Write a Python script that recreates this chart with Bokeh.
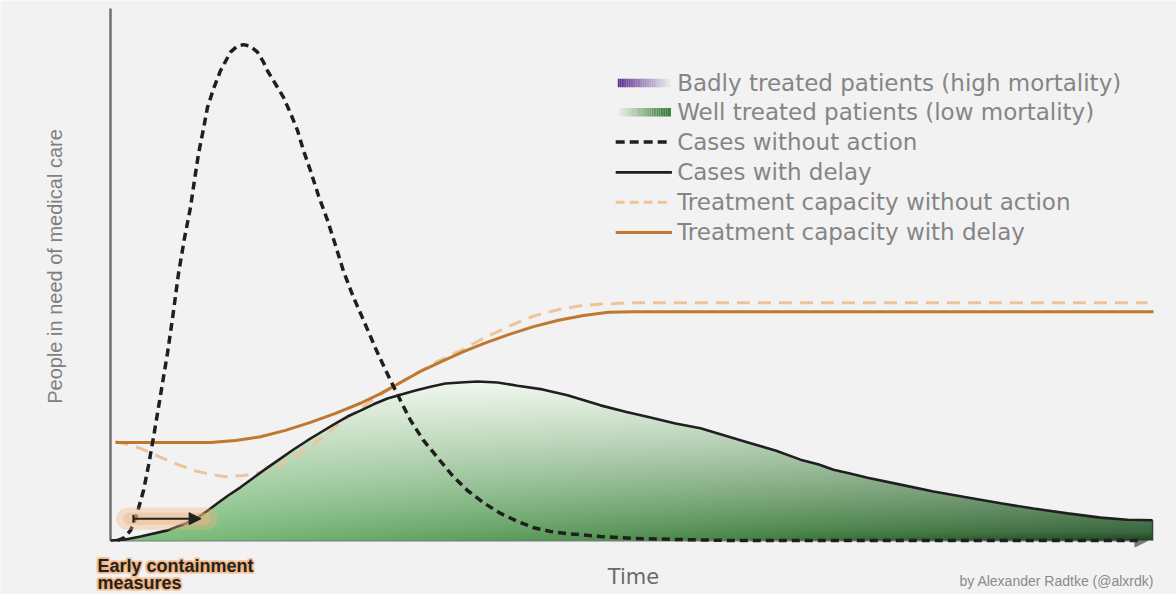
import numpy as np
from bokeh.plotting import figure
from bokeh.models import Range1d, Label, Arrow, NormalHead, TeeHead
from bokeh.core.properties import value
from bokeh.embed import file_html
from bokeh.resources import INLINE

# ---------------- data ----------------
# Cases without action (dashed black)
t_no_action = [0.67, 1.34, 1.92, 2.50, 3.17, 3.65, 4.13, 4.80, 5.47, 5.95, 6.53, 7.10, 7.68,
               8.06, 8.45, 8.93, 9.31, 9.89, 10.56, 11.52, 12.16, 12.77, 13.44, 14.11, 14.69,
               15.07, 15.84, 16.61, 17.28, 17.95, 18.53, 19.20, 19.97, 20.83, 21.60, 22.37,
               23.33, 24.29, 25.54, 26.88, 27.84, 28.80, 30.05, 31.39, 32.83, 34.27, 35.81,
               37.44, 39.07, 40.63, 42.24, 43.86, 47.04, 50.21, 56.64, 59.81, 98.9]
v_no_action = [0.0, 0.56, 1.88, 4.70, 9.40, 14.1, 19.4, 27.3, 35.2, 41.7, 50.2, 56.8, 62.6,
               67.7, 72.7, 77.4, 81.4, 84.9, 88.3, 91.8, 92.9, 93.2, 92.9, 91.8, 89.9,
               88.3, 85.8, 83.3, 80.3, 77.1, 73.3, 69.5, 64.8, 60.2, 55.5, 50.6,
               45.7, 41.4, 35.7, 30.1, 26.3, 22.6, 18.8, 15.6, 12.2, 9.4, 7.1,
               5.1, 3.6, 2.4, 1.7, 1.3, 0.75, 0.38, 0.1, 0.0, 0.0]

# Cases with delay (solid black, green area)
t_delay = [0.0, 1.44, 2.88, 5.47, 7.20, 8.35, 9.31, 10.27, 11.33, 12.48, 13.73, 15.07, 16.32,
           17.57, 18.91, 20.16, 21.41, 22.75, 24.00, 25.25, 26.59, 27.84, 29.28, 30.72, 32.16,
           33.60, 35.23, 37.15, 39.07, 41.47, 43.87, 47.04, 49.44, 51.84, 54.24, 56.64, 59.04,
           61.44, 63.84, 66.24, 68.00, 69.41, 71.00, 72.68, 75.84, 79.01, 82.28, 85.45, 88.61,
           91.88, 95.05, 97.64, 100.04]
v_delay = [0.0, 0.2, 0.75, 1.9, 3.2, 4.3, 5.6, 7.0, 8.5, 10.0, 11.8, 13.7, 15.4,
           17.1, 18.8, 20.3, 21.8, 23.3, 24.4, 25.6, 26.7, 27.4, 28.2, 28.9, 29.5,
           29.7, 29.9, 29.7, 29.1, 28.4, 27.3, 25.4, 24.2, 23.1, 22.0, 21.1, 19.7,
           18.3, 16.9, 15.2, 14.3, 13.3, 12.6, 11.8, 10.5, 9.2, 8.1, 7.0, 6.0,
           5.1, 4.3, 3.9, 3.8]

# Treatment capacity with delay (solid orange)
t_cap_delay = [0.48, 4.80, 9.60, 12.0, 14.40, 16.80, 19.20, 21.60, 24.00, 25.92, 27.84, 29.76,
               31.97, 33.89, 35.81, 38.21, 40.61, 43.01, 45.41, 47.81, 50.21, 100.13]
v_cap_delay = [18.4, 18.4, 18.4, 18.8, 19.5, 20.7, 22.2, 23.9, 25.8, 27.6, 29.7, 31.8,
               33.8, 35.5, 37.0, 38.7, 40.2, 41.4, 42.3, 42.9, 43.0, 43.0]

# Treatment capacity without action (dashed light orange)
t_cap_none = [0.48, 1.73, 2.88, 4.61, 6.43, 7.97, 9.60, 11.04, 12.77, 14.40, 16.03, 17.57,
              19.20, 20.83, 22.37, 24.00, 25.63, 27.17, 28.80, 31.20, 33.60, 36.00, 38.40,
              40.80, 43.01, 45.41, 47.81, 50.21, 99.56]
v_cap_none = [18.6, 18.0, 17.3, 15.8, 14.3, 13.2, 12.4, 12.0, 12.2, 12.8, 13.9, 15.6,
              17.7, 20.1, 22.6, 24.8, 27.1, 28.9, 30.8, 33.5, 35.7, 38.2, 40.4,
              42.3, 43.4, 44.2, 44.5, 44.7, 44.7]

legend_labels = ["Badly treated patients (high mortality)",
                 "Well treated patients (low mortality)",
                 "Cases without action",
                 "Cases with delay",
                 "Treatment capacity without action",
                 "Treatment capacity with delay"]

y_title = "People in need of medical care"
x_title = "Time"
credit = "by Alexander Radtke (@alxrdk)"
note_lines = ["Early containment", "measures"]

# ---------------- figure (frame covers the whole canvas) ----------------
BG = "#f2f2f2"
p = figure(width=1176, height=594, output_backend="svg", toolbar_location=None,
           x_range=Range1d(-10.56, 102.34), y_range=Range1d(-10.15, 101.5),
           min_border=0)
p.background_fill_color = BG
p.border_fill_color = BG
p.outline_line_color = None
p.grid.visible = False
p.axis.visible = False

# axes drawn as a line and an arrow
p.line([0, 0], [0, 100], line_color="#707070", line_width=2.5)
p.add_layout(Arrow(x_start=0, y_start=0, x_end=99.6, y_end=0, line_color="#7a7a7a",
                   line_width=2, level="underlay",
                   end=NormalHead(size=13, fill_color="#7a7a7a", line_color="#7a7a7a")))

# ---------------- green gradient area (rendered as an image) ----------------
W, H = 1044, 170
x0, x1 = 0.0, max(t_delay)
y0, y1 = 0.0, 32.0
xs = x0 + (np.arange(W) + 0.5) * (x1 - x0) / W
ys = y0 + (np.arange(H) + 0.5) * (y1 - y0) / H
curve = np.interp(xs, t_delay, v_delay)
XX, YY = np.meshgrid(xs, ys)
CC = np.broadcast_to(curve, XX.shape)
pix_h = (y1 - y0) / H
alpha = np.clip((CC - YY) / pix_h + 0.5, 0, 1)

stops_t = [0, 35, 70, 100.2]
base_r = np.interp(XX, stops_t, [128, 92, 60, 42])
base_g = np.interp(XX, stops_t, [195, 158, 120, 88])
base_b = np.interp(XX, stops_t, [128, 92, 60, 46])
top = np.array([242, 248, 240])
frac = np.clip(YY / 30.0, 0, 1) ** 0.85
R = base_r + (top[0] - base_r) * frac
G = base_g + (top[1] - base_g) * frac
B = base_b + (top[2] - base_b) * frac
shade = np.clip(1 - YY / 1.5, 0, 1) * np.clip((XX - 60) / 40, 0, 1) * 0.25
R *= (1 - shade); G *= (1 - shade); B *= (1 - shade)

img = np.empty((H, W), dtype=np.uint32)
view = img.view(dtype=np.uint8).reshape((H, W, 4))
view[..., 0] = R.astype(np.uint8)
view[..., 1] = G.astype(np.uint8)
view[..., 2] = B.astype(np.uint8)
view[..., 3] = (alpha * 255).astype(np.uint8)
p.image_rgba(image=[img], x=x0, y=y0, dw=x1 - x0, dh=y1 - y0)

p.segment(x0=[t_delay[-1]], y0=[0], x1=[t_delay[-1]], y1=[v_delay[-1]],
          line_color="#2a4a2a", line_width=1.5)

# ---------------- lines ----------------
p.line(t_cap_none, v_cap_none, line_color="#ecc49c", line_width=3, line_dash="13 8")
p.line(t_cap_delay, v_cap_delay, line_color="#c0772f", line_width=3)
p.line(t_delay, v_delay, line_color="#1f1f1f", line_width=2.6)
p.line(t_no_action, v_no_action, line_color="#1f1f1f", line_width=3.5, line_dash="8 5")

# ---------------- early containment arrow with glow ----------------
p.line([1.6, 9.2], [4.1, 4.1], line_color="#f0b582", line_alpha=0.35, line_width=22,
       line_cap="round")
p.line([1.8, 9.0], [4.1, 4.1], line_color="#f0b582", line_alpha=0.45, line_width=12,
       line_cap="round")
p.add_layout(Arrow(x_start=2.2, y_start=4.1, x_end=8.7, y_end=4.1, line_color="#222222",
                   line_width=2,
                   start=TeeHead(size=8, line_color="#222222", line_width=2),
                   end=NormalHead(size=12, fill_color="#222222", line_color="#222222")))

# ---------------- legend (manual) ----------------
rows_v = [86.0, 80.5, 74.9, 69.2, 63.6, 57.9]
sx0, sx1 = 48.7, 53.8
n = 30
edges = np.linspace(sx0, sx1, n + 1)
fr = np.linspace(0, 1, n)
purple = [(int(95 + (235 - 95) * f), int(45 + (235 - 45) * f), int(140 + (240 - 140) * f)) for f in fr]
green = [(int(235 + (50 - 235) * f), int(240 + (120 - 240) * f), int(235 + (50 - 235) * f)) for f in fr]
hh = 0.8
p.quad(left=edges[:-1], right=edges[1:], bottom=rows_v[0] - hh, top=rows_v[0] + hh,
       fill_color=["#%02x%02x%02x" % c for c in purple], line_color=None)
p.quad(left=edges[:-1], right=edges[1:], bottom=rows_v[1] - hh, top=rows_v[1] + hh,
       fill_color=["#%02x%02x%02x" % c for c in green], line_color=None)
p.line([48.5, 53.7], [rows_v[2]] * 2, line_color="#1f1f1f", line_width=3.5, line_dash="9 5")
p.line([48.5, 53.9], [rows_v[3]] * 2, line_color="#1f1f1f", line_width=2.6)
p.line([48.5, 53.7], [rows_v[4]] * 2, line_color="#ecc49c", line_width=3, line_dash="9 5")
p.line([48.5, 53.9], [rows_v[5]] * 2, line_color="#c0772f", line_width=3)
p.text(x=[54.4] * len(legend_labels), y=rows_v, text=legend_labels,
       text_font=value("DejaVu Sans"), text_font_size="23px", text_color="#858585",
       text_baseline="middle", text_align="left")

# ---------------- texts around the axes ----------------
p.add_layout(Label(x=-5.3, y=51.5, text=y_title, angle=np.pi / 2, text_align="center",
                   text_baseline="middle", text_font="Liberation Sans",
                   text_font_size="20px", text_color="#808080"))
p.add_layout(Label(x=50.2, y=-6.9, text=x_title, text_align="center",
                   text_baseline="alphabetic", text_font="DejaVu Sans",
                   text_font_size="21px", text_color="#6a6a6a"))
p.add_layout(Label(x=100.2, y=-7.6, text=credit, text_align="right",
                   text_baseline="alphabetic", text_font="Liberation Sans",
                   text_font_size="14px", text_color="#8a8a8a"))

note_y = [-4.8, -7.9]
offs = [(dx, dy) for dx in (-2, -1, 0, 1, 2) for dy in (-2, -1, 0, 1, 2)
        if (dx, dy) != (0, 0)]
for line_text, ny in zip(note_lines, note_y):
    for dx, dy in offs:
        p.add_layout(Label(x=-1.25, y=ny, x_offset=dx, y_offset=dy, text=line_text,
                           text_align="left", text_baseline="alphabetic",
                           text_font="Liberation Sans", text_font_style="bold",
                           text_font_size="18px", text_color="#f2b27a", text_alpha=0.25))
    p.add_layout(Label(x=-1.25, y=ny, text=line_text, text_align="left",
                       text_baseline="alphabetic", text_font="Liberation Sans",
                       text_font_style="bold", text_font_size="18px", text_color="#222222"))

open("out.html", "w").write(file_html(p, INLINE))
